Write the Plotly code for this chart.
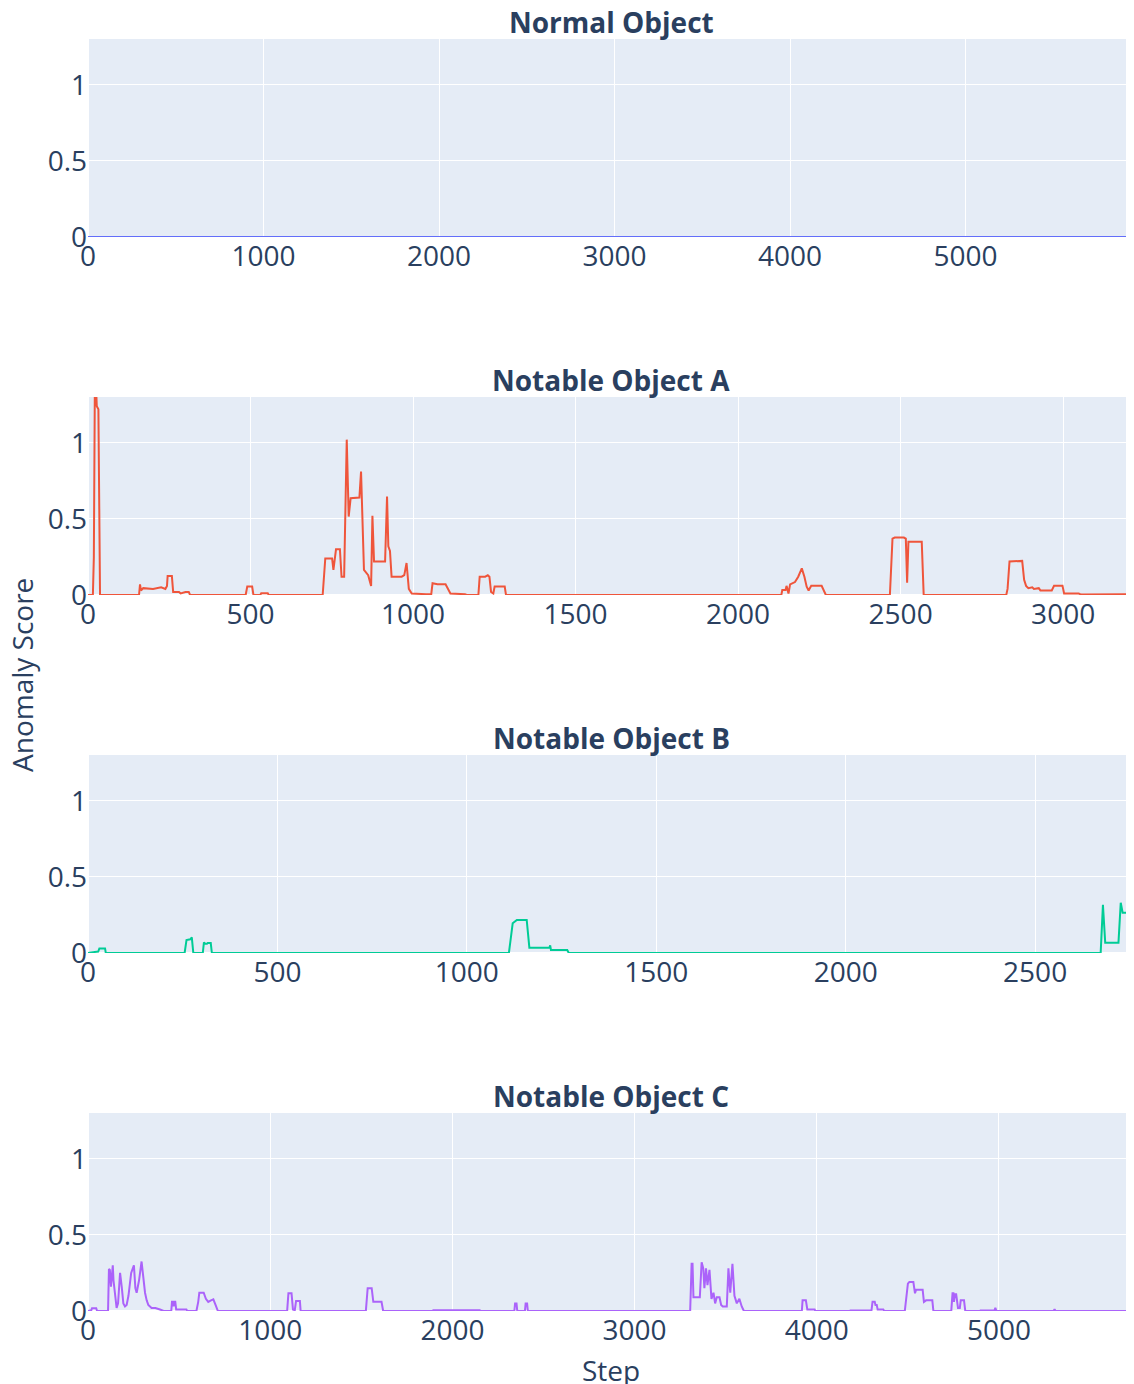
import plotly.graph_objects as go
from plotly.subplots import make_subplots

titles = ["Normal Object", "Notable Object A", "Notable Object B", "Notable Object C"]

normal_step = [0, 1000, 2000, 3000, 4000, 5000, 5960]
normal_score = [0, 0, 0, 0, 0, 0, 0]

a_step = [0, 15, 18, 21, 25, 27, 32, 35, 37,
          157, 160, 163, 170, 200, 225, 238, 243, 245, 258, 262, 280, 285, 300, 310, 314,
          485, 490, 505, 509, 530, 533, 553, 556,
          722, 730, 751, 755, 763, 775, 780, 788, 796, 802, 808, 835, 840, 849, 862, 871, 875, 880,
          914, 920, 924, 929, 934, 965, 973, 980, 987, 996, 1040, 1056, 1060, 1075, 1100, 1108, 1115, 1160, 1165,
          1201, 1205, 1222, 1230, 1235, 1240, 1247, 1251, 1282, 1286,
          2133, 2136, 2146, 2149, 2155, 2160, 2175, 2185, 2196, 2204, 2211, 2217, 2225, 2257, 2270,
          2467, 2475, 2482, 2510, 2516, 2520, 2524, 2565, 2571,
          2825, 2829, 2835, 2874, 2880, 2886, 2893, 2905, 2910, 2918, 2925, 2930, 2965, 2972, 2985,
          2998, 3003, 3048, 3055, 3150, 3160, 3218]
a_score = [0, 0, 0.25, 1.35, 1.35, 1.24, 1.22, 0.23, 0,
           0, 0.07, 0.03, 0.045, 0.04, 0.05, 0.04, 0.06, 0.125, 0.125, 0.02, 0.02, 0.01, 0.02, 0.02, 0,
           0, 0.055, 0.055, 0, 0, 0.012, 0.012, 0,
           0, 0.24, 0.24, 0.165, 0.30, 0.30, 0.12, 0.12, 1.02, 0.515, 0.636, 0.64, 0.81, 0.165, 0.13, 0.06, 0.52, 0.22,
           0.22, 0.647, 0.32, 0.29, 0.12, 0.12, 0.13, 0.21, 0.04, 0.01, 0.005, 0.005, 0.077, 0.07, 0.07, 0.04, 0.01, 0.005, 0,
           0, 0.12, 0.12, 0.13, 0.12, 0.02, 0.01, 0.055, 0.055, 0,
           0, 0.033, 0.033, 0.06, 0.01, 0.07, 0.085, 0.12, 0.175, 0.12, 0.055, 0.03, 0.06, 0.06, 0,
           0, 0.37, 0.377, 0.377, 0.37, 0.08, 0.35, 0.35, 0,
           0, 0.04, 0.22, 0.224, 0.1, 0.06, 0.045, 0.05, 0.04, 0.045, 0.045, 0.03, 0.03, 0.06, 0.06,
           0.06, 0.01, 0.01, 0.003, 0.003, 0.006, 0.006]

b_step = [0, 10, 27, 30, 45, 47, 255, 260, 270, 274, 278, 303, 306, 310, 314, 316, 324, 327,
          1111, 1121, 1132, 1158, 1165, 1218, 1220, 1222, 1265, 1269,
          2673, 2679, 2685, 2720, 2726, 2731, 2749, 2753, 2758, 2761]
b_score = [0, 0.005, 0.01, 0.03, 0.03, 0, 0, 0.085, 0.09, 0.103, 0, 0, 0.07, 0.06, 0.06, 0.065, 0.065, 0,
           0, 0.195, 0.217, 0.217, 0.035, 0.035, 0.05, 0.02, 0.02, 0,
           0, 0.316, 0.068, 0.068, 0.33, 0.265, 0.265, 0.07, 0.07, 0.1]

c_step = [0, 18, 22, 45, 50, 110, 115, 120, 126, 136, 140, 157, 165, 176, 185, 194, 203, 212, 222, 231,
          237, 252, 260, 267, 280, 294, 305, 313, 322, 331, 349, 370, 395, 415,
          457, 461, 466, 470, 474, 479, 484, 540, 545,
          595, 605, 611, 627, 635, 647, 660, 675, 688, 700, 713,
          1093, 1100, 1117, 1125, 1135, 1142, 1163, 1167,
          1525, 1535, 1557, 1566, 1575, 1611, 1620,
          1890, 1895, 2150, 2155, 2340, 2344, 2352, 2356, 2398, 2402, 2410, 2414,
          3305, 3313, 3318, 3323, 3358, 3368, 3377, 3383, 3392, 3400, 3411, 3422, 3433, 3442, 3451, 3466,
          3475, 3484, 3506, 3515, 3525, 3537, 3548, 3561, 3575, 3588, 3600,
          3918, 3922, 3940, 3948, 3988, 3992,
          4180, 4185, 4300, 4306, 4318, 4322, 4329, 4334, 4365, 4370,
          4483, 4500, 4508, 4530, 4539, 4545, 4581, 4588, 4600, 4634, 4640,
          4738, 4745, 4750, 4753, 4758, 4765, 4775, 4785, 4790, 4808, 4815,
          4895, 4898, 4975, 4980, 4985, 4990, 5300, 5305, 5310, 5741]
c_score = [0, 0.005, 0.018, 0.018, 0, 0, 0.276, 0.27, 0.16, 0.30, 0.2, 0.02, 0.05, 0.25, 0.16, 0.05, 0.03, 0.04, 0.1, 0.18,
           0.25, 0.30, 0.15, 0.12, 0.2, 0.325, 0.2, 0.12, 0.07, 0.04, 0.02, 0.02, 0.01, 0,
           0, 0.06, 0.06, 0.03, 0.06, 0.06, 0.01, 0.01, 0,
           0, 0.06, 0.12, 0.12, 0.12, 0.08, 0.06, 0.07, 0.077, 0.04, 0,
           0, 0.116, 0.116, 0.01, 0.005, 0.066, 0.066, 0,
           0, 0.15, 0.15, 0.06, 0.06, 0.06, 0,
           0, 0.005, 0.005, 0, 0, 0.05, 0.05, 0, 0, 0.05, 0.05, 0,
           0, 0.31, 0.31, 0.09, 0.09, 0.32, 0.28, 0.15, 0.28, 0.17, 0.27, 0.08, 0.12, 0.05, 0.09, 0.09,
           0.04, 0.03, 0.03, 0.28, 0.12, 0.31, 0.1, 0.05, 0.08, 0.03, 0,
           0, 0.07, 0.07, 0.01, 0.01, 0,
           0, 0.003, 0.003, 0.06, 0.06, 0.04, 0.04, 0.01, 0.01, 0,
           0, 0.18, 0.19, 0.19, 0.116, 0.14, 0.14, 0.06, 0.07, 0.07, 0,
           0, 0.116, 0.116, 0.06, 0.11, 0.11, 0.02, 0.02, 0.07, 0.07, 0,
           0, 0.003, 0.003, 0.02, 0.003, 0, 0, 0.012, 0, 0]

colors = ["#636efa", "#EF553B", "#00cc96", "#ab63fa"]
x_dticks = [1000, 500, 500, 1000]
series = [(normal_step, normal_score), (a_step, a_score), (b_step, b_score), (c_step, c_score)]

fig = make_subplots(rows=4, cols=1, subplot_titles=[f"<b>{t}</b>" for t in titles],
                    vertical_spacing=160 / 1272)

for i, (xs, ys) in enumerate(series):
    fig.add_trace(go.Scatter(x=xs, y=ys, mode="lines", line=dict(color=colors[i], width=2),
                             showlegend=False, name=titles[i]), row=i + 1, col=1)
    fig.update_xaxes(dtick=x_dticks[i], tick0=0, automargin=False, row=i + 1, col=1)
    fig.update_yaxes(range=[0, 1.3], tickvals=[0, 0.5, 1], ticktext=["0", "0.5", "1"],
                     automargin=False, row=i + 1, col=1)

fig.update_annotations(font=dict(size=28, color="#2a3f5f"), yshift=-4)
fig.update_xaxes(title_text="Step", title_font=dict(size=28, color="#2a3f5f"),
                 title_standoff=17, automargin=True, row=4, col=1)

fig.add_annotation(text="Anomaly Score", textangle=-90, xref="paper", yref="paper",
                   x=0, y=0.5, xanchor="center", yanchor="middle", xshift=-66,
                   showarrow=False, font=dict(size=28, color="#2a3f5f"))

fig.update_layout(width=1126, height=1381, template="plotly",
                  font=dict(family="Open Sans", size=28, color="#2a3f5f"),
                  margin=dict(l=80, r=0, t=31, b=78), showlegend=False)

fig.write_html("out.html")
